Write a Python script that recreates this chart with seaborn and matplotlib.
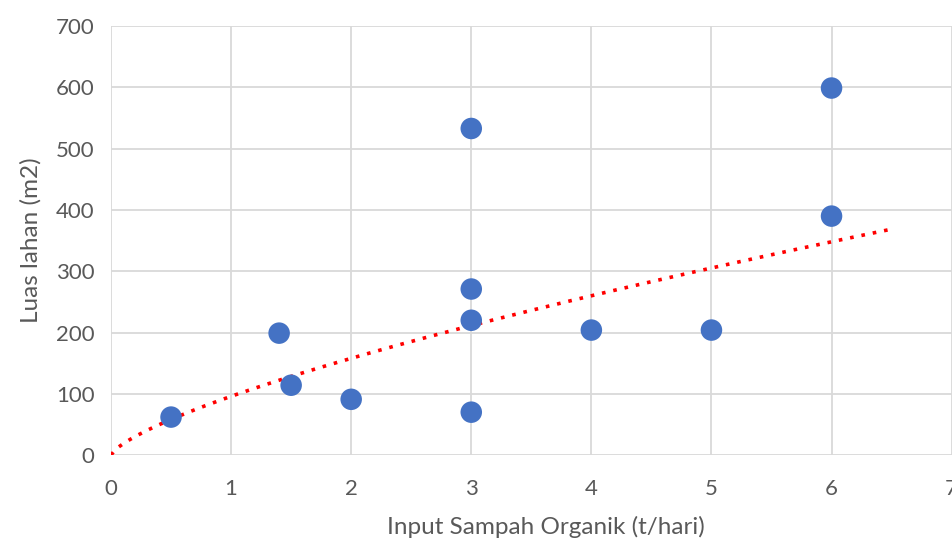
import numpy as np
import pandas as pd
import matplotlib.pyplot as plt
import seaborn as sns

sns.set_style("white")
plt.rcParams['font.family'] = ['Lato', 'DejaVu Sans']

# data
input_sampah = [0.5, 1.4, 1.5, 2, 3, 3, 3, 3, 4, 5, 6, 6]
luas_lahan = [62, 199, 114, 91, 533, 271, 220, 70, 204, 204, 599, 390]

x_ticks = [0, 1, 2, 3, 4, 5, 6, 7]
y_ticks = [0, 100, 200, 300, 400, 500, 600, 700]

df = pd.DataFrame({'x': input_sampah, 'y': luas_lahan})

# power trendline (Excel style), fitted on log-log
b, log_a = np.polyfit(np.log(df['x']), np.log(df['y']), 1)
trend_x = np.linspace(0, 6.5, 200)
trend_y = np.exp(log_a) * trend_x ** b

fig = plt.figure(figsize=(9.52, 5.45), dpi=100)
ax = fig.add_axes([0.1166, 0.165, 0.883, 0.787])

ax.plot(trend_x, trend_y, color='#FF0000', linestyle=(0, (1, 2.2)),
        linewidth=2.6, zorder=3)
sns.scatterplot(data=df, x='x', y='y', ax=ax, color='#4472C4', s=240,
                edgecolor='none', zorder=4)

ax.set_xlim(0, 7)
ax.set_ylim(0, 700)
ax.set_xticks(x_ticks)
ax.set_yticks(y_ticks)
ax.grid(True, color='#d9d9d9', linewidth=1.3)
ax.set_axisbelow(True)
for s in ax.spines.values():
    s.set_visible(False)
ax.tick_params(length=0, labelsize=16, colors='#595959')
ax.tick_params(axis='x', pad=17)
ax.tick_params(axis='y', pad=12)

ax.set_xlabel('Input Sampah Organik (t/hari)', fontsize=17.5, color='#595959')
ax.xaxis.set_label_coords(0.517, -0.142)
ax.set_ylabel('Luas lahan (m2)', fontsize=17.5, color='#595959', labelpad=10)

fig.savefig('out.png', dpi=100)
